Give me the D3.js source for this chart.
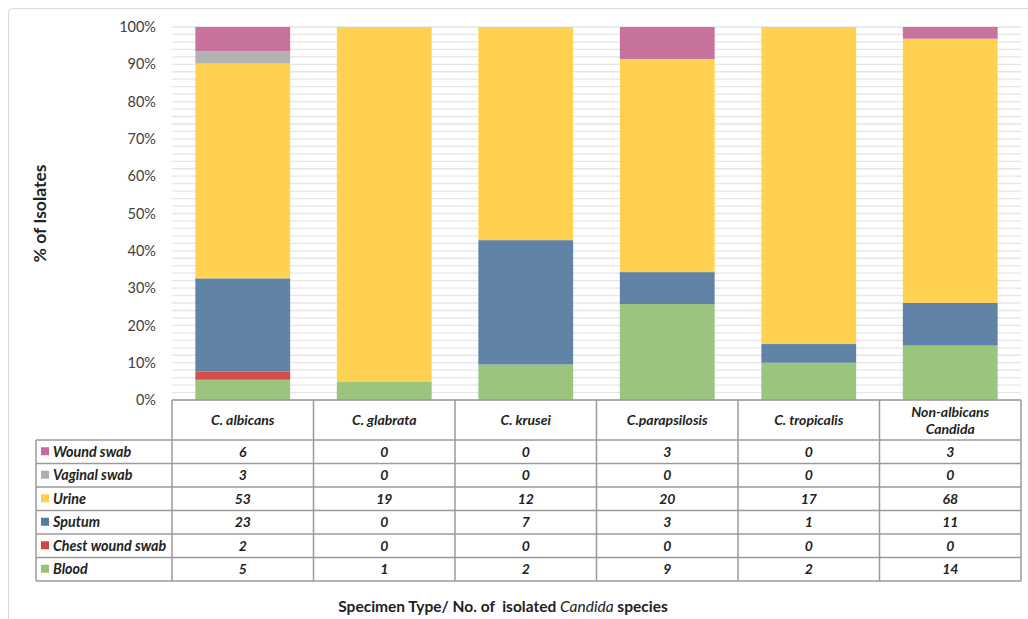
<!DOCTYPE html>
<html>
<head>
<meta charset="utf-8">
<script src="https://cdn.jsdelivr.net/npm/d3@7"></script>
<style>
  html, body { margin: 0; padding: 0; background: #fff; }
  svg { display: block; }
  text { font-family: Lato, "Open Sans", sans-serif; }
</style>
</head>
<body>
<svg id="chart" width="1028" height="619"></svg>
<script>
// ---- data ----
const species = ["C. albicans", "C. glabrata", "C. krusei", "C.parapsilosis", "C. tropicalis", "Non-albicans Candida"];
const specimenTypes = ["Blood", "Chest wound swab", "Sputum", "Urine", "Vaginal swab", "Wound swab"];
const blood          = [5, 1, 2, 9, 2, 14];
const chestWoundSwab = [2, 0, 0, 0, 0, 0];
const sputum         = [23, 0, 7, 3, 1, 11];
const urine          = [53, 19, 12, 20, 17, 68];
const vaginalSwab    = [3, 0, 0, 0, 0, 0];
const woundSwab      = [6, 0, 0, 3, 0, 3];
const yTicks = [0, 0.1, 0.2, 0.3, 0.4, 0.5, 0.6, 0.7, 0.8, 0.9, 1.0];
const tableOrder = ["Wound swab", "Vaginal swab", "Urine", "Sputum", "Chest wound swab", "Blood"];

const seriesValues = {
  "Blood": blood, "Chest wound swab": chestWoundSwab, "Sputum": sputum,
  "Urine": urine, "Vaginal swab": vaginalSwab, "Wound swab": woundSwab
};
const colors = {
  "Blood": "#96C277", "Chest wound swab": "#D24545", "Sputum": "#587CA0",
  "Urine": "#FFD148", "Vaginal swab": "#AEAEAE", "Wound swab": "#C56A99"
};

const rows = species.map((s, i) => {
  const r = { species: s };
  specimenTypes.forEach(t => r[t] = seriesValues[t][i]);
  return r;
});

// ---- layout ----
const svg = d3.select("#chart");
const plotLeft = 172, plotRight = 1021, plotTop = 27, plotBottom = 400;
const headerH = 40, rowH = 23.5, labelLeft = 36;

// outer frame
svg.append("rect").attr("x", 8.5).attr("y", 8.5).attr("width", 1040).attr("height", 640)
  .attr("rx", 4).attr("fill", "none").attr("stroke", "#d9d9d9").attr("stroke-width", 1);

const x = d3.scaleBand().domain(species).range([plotLeft, plotRight])
  .paddingInner(0.33).paddingOuter(0.165);
const y = d3.scaleLinear().domain([0, 1]).range([plotBottom, plotTop]);

// minor gridlines every 2%
const gridVals = d3.range(0, 51).map(d => d / 50);
svg.append("g").selectAll("line").data(gridVals).join("line")
  .attr("x1", plotLeft).attr("x2", plotRight)
  .attr("y1", d => y(d)).attr("y2", d => y(d))
  .attr("stroke", "#e6e6e6").attr("stroke-width", 1.3);

// stacked bars
const stack = d3.stack().keys(specimenTypes).offset(d3.stackOffsetExpand);
const stacked = stack(rows);
svg.append("g").selectAll("g").data(stacked).join("g")
  .attr("fill", d => colors[d.key]).attr("fill-opacity", 0.95)
  .selectAll("rect").data(d => d).join("rect")
  .attr("x", d => x(d.data.species))
  .attr("width", x.bandwidth())
  .attr("y", d => y(d[1]))
  .attr("height", d => Math.max(0, y(d[0]) - y(d[1])));

// y axis tick labels
const yAxis = d3.axisLeft(y).tickValues(yTicks).tickFormat(d3.format(".0%")).tickSize(0).tickPadding(0);
const ya = svg.append("g").attr("transform", `translate(156,0)`).call(yAxis);
ya.select(".domain").remove();
ya.selectAll("text").attr("font-size", 14.5).attr("fill", "#404040")
  .style("font-family", "Lato, 'Open Sans', sans-serif");

// y axis title
svg.append("text").attr("transform", `translate(46,${(plotTop + plotBottom) / 2}) rotate(-90)`)
  .attr("text-anchor", "middle").attr("font-size", 17.5).attr("font-weight", "bold")
  .attr("fill", "#222").text("% of Isolates");

// ---- data table ----
const step = x.step();
const colEdges = d3.range(species.length + 1).map(i => plotLeft + i * step);
const tableTop = plotBottom;
const rowsTop = tableTop + headerH;
const tableBottom = rowsTop + rowH * tableOrder.length;
const tg = svg.append("g");
const lineColor = "#9a9a9a";

// horizontal lines
tg.append("line").attr("x1", plotLeft).attr("x2", plotRight).attr("y1", tableTop).attr("y2", tableTop)
  .attr("stroke", lineColor).attr("stroke-width", 1.5);
d3.range(tableOrder.length + 1).forEach(i => {
  const yy = rowsTop + i * rowH;
  tg.append("line").attr("x1", labelLeft).attr("x2", plotRight).attr("y1", yy).attr("y2", yy)
    .attr("stroke", lineColor).attr("stroke-width", 1.5);
});
// vertical lines
colEdges.forEach(cx => {
  tg.append("line").attr("x1", cx).attr("x2", cx).attr("y1", tableTop).attr("y2", tableBottom)
    .attr("stroke", lineColor).attr("stroke-width", 1.5);
});
tg.append("line").attr("x1", labelLeft).attr("x2", labelLeft).attr("y1", rowsTop).attr("y2", tableBottom)
  .attr("stroke", lineColor).attr("stroke-width", 1.5);

// header labels
species.forEach((s, i) => {
  const cx = x(s) + x.bandwidth() / 2;
  const t = tg.append("text").attr("x", cx).attr("text-anchor", "middle")
    .attr("font-size", 14).attr("font-weight", "bold").attr("font-style", "italic").attr("fill", "#222");
  if (s === "Non-albicans Candida") {
    t.append("tspan").attr("x", cx).attr("y", tableTop + 17).text("Non-albicans");
    t.append("tspan").attr("x", cx).attr("y", tableTop + 34).text("Candida");
  } else {
    t.attr("y", tableTop + 25).text(s);
  }
});

// row labels and values
tableOrder.forEach((t, ri) => {
  const cy = rowsTop + ri * rowH + rowH / 2;
  tg.append("rect").attr("x", 41).attr("y", cy - 4.5).attr("width", 8).attr("height", 8)
    .attr("fill", colors[t]);
  tg.append("text").attr("x", 53).attr("y", cy + 5).attr("font-size", 14.3)
    .attr("font-weight", "bold").attr("font-style", "italic").attr("fill", "#222").text(t);
  species.forEach((s, ci) => {
    tg.append("text").attr("x", x(s) + x.bandwidth() / 2).attr("y", cy + 5)
      .attr("text-anchor", "middle").attr("font-size", 14).attr("font-weight", "bold")
      .attr("font-style", "italic").attr("fill", "#222").text(seriesValues[t][ci]);
  });
});

// x title
const xt = svg.append("text").attr("x", 503).attr("y", 612).attr("text-anchor", "middle")
  .attr("font-size", 15.5).attr("font-weight", "bold").attr("fill", "#222")
  .style("white-space", "pre");
xt.append("tspan").text("Specimen Type/ No. of  isolated ");
xt.append("tspan").attr("font-style", "italic").attr("font-weight", "normal").text("Candida");
xt.append("tspan").text(" species");
</script>
</body>
</html>
